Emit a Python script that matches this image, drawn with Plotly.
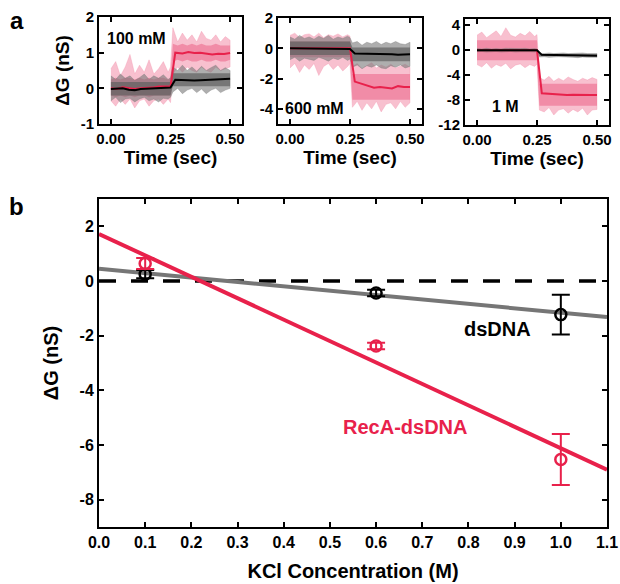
import plotly.graph_objects as go

# ---------------- Panel a: conductance traces ----------------
# time grid for the noise envelopes (s)
t_band = [0.00, 0.02, 0.04, 0.06, 0.08, 0.10, 0.12, 0.14, 0.16, 0.18, 0.20, 0.22, 0.24, 0.25,
          0.26, 0.28, 0.30, 0.32, 0.34, 0.36, 0.38, 0.40, 0.42, 0.44, 0.46, 0.48, 0.50]
# time grid for the smoothed traces (s)
t_smooth = [0.00, 0.025, 0.05, 0.075, 0.10, 0.125, 0.15, 0.175, 0.20, 0.225, 0.25,
            0.27, 0.30, 0.325, 0.35, 0.375, 0.40, 0.425, 0.45, 0.475, 0.50]

# 100 mM : outer (spike) envelopes and dense core envelopes
recA_100_hi = [0.55, 0.75, 0.35, 0.6, 0.95, 0.4, 0.65, 0.45, 0.8, 0.4, 0.55, 0.75, 0.45, 0.6,
               1.7, 1.3, 1.55, 1.35, 1.5, 1.3, 1.6, 1.4, 1.35, 1.5, 1.3, 1.45, 1.35]
recA_100_lo = [-0.35, -0.5, -0.3, -0.45, -0.3, -0.55, -0.35, -0.3, -0.5, -0.35, -0.3, -0.45, -0.3, -0.4,
               0.4, 0.6, 0.45, 0.6, 0.5, 0.45, 0.6, 0.5, 0.45, 0.6, 0.5, 0.55, 0.6]
recA_100_core_hi = [0.25, 0.3, 0.25, 0.3, 0.3, 0.25, 0.3, 0.25, 0.3, 0.25, 0.3, 0.3, 0.25, 0.3,
                    1.25, 1.2, 1.25, 1.2, 1.25, 1.2, 1.25, 1.2, 1.2, 1.25, 1.2, 1.2, 1.2]
recA_100_core_lo = [-0.2, -0.25, -0.2, -0.25, -0.2, -0.25, -0.2, -0.2, -0.25, -0.2, -0.2, -0.2, -0.2, -0.2,
                    0.75, 0.8, 0.75, 0.8, 0.75, 0.75, 0.8, 0.75, 0.75, 0.8, 0.75, 0.75, 0.8]
ds_100_hi = [0.35, 0.25, 0.4, 0.28, 0.35, 0.22, 0.3, 0.4, 0.25, 0.35, 0.28, 0.38, 0.25, 0.3,
             0.6, 0.5, 0.65, 0.5, 0.6, 0.48, 0.62, 0.5, 0.58, 0.65, 0.5, 0.58, 0.5]
ds_100_lo = [-0.35, -0.25, -0.4, -0.3, -0.28, -0.38, -0.3, -0.25, -0.35, -0.3, -0.38, -0.28, -0.3, -0.25,
             -0.1, 0.0, -0.15, -0.05, 0.0, -0.12, -0.02, -0.15, -0.05, 0.0, -0.12, -0.05, 0.0]
ds_100_core_hi = [0.18] * 14 + [0.42] * 13
ds_100_core_lo = [-0.2] * 14 + [0.06] * 13
recA_100 = [0.0, -0.02, 0.03, 0.0, -0.02, 0.0, 0.0, 0.02, 0.05, 0.06, 0.05,
            1.0, 0.98, 1.02, 0.99, 1.0, 0.97, 0.95, 0.97, 0.96, 0.99]
ds_100 = [-0.02, -0.02, 0.0, -0.04, -0.05, -0.02, -0.01, -0.02, 0.0, 0.0, 0.02,
          0.24, 0.23, 0.24, 0.22, 0.23, 0.24, 0.25, 0.24, 0.26, 0.27]

# 600 mM
recA_600_hi = [0.85, 1.0, 0.7, 0.9, 0.95, 0.75, 1.0, 0.7, 0.9, 0.8, 0.95, 0.75, 0.9, 0.8,
               -1.2, -1.0, -1.35, -1.15, -0.95, -1.3, -1.1, -1.25, -1.05, -1.3, -1.15, -1.05, -1.25]
recA_600_lo = [-1.3, -1.0, -1.6, -1.1, -1.4, -1.0, -1.8, -1.2, -1.0, -1.4, -1.1, -1.5, -1.2, -1.0,
               -3.9, -3.5, -4.1, -3.6, -4.0, -3.5, -4.2, -3.7, -3.6, -4.0, -3.5, -3.9, -3.6]
recA_600_core_hi = [0.45] * 14 + [-1.7] * 13
recA_600_core_lo = [-0.6] * 14 + [-3.4] * 13
ds_600_hi = [0.75, 0.6, 0.85, 0.65, 0.75, 0.6, 0.8, 0.65, 0.85, 0.6, 0.75, 0.65, 0.8, 0.7,
             0.35, 0.45, 0.2, 0.4, 0.3, 0.45, 0.25, 0.4, 0.3, 0.45, 0.3, 0.25, 0.4]
ds_600_lo = [-0.75, -0.6, -0.85, -0.65, -0.75, -0.8, -0.6, -0.7, -0.85, -0.65, -0.75, -0.6, -0.8, -0.7,
             -1.25, -1.1, -1.35, -1.15, -1.25, -1.1, -1.3, -1.35, -1.15, -1.25, -1.1, -1.3, -1.2]
ds_600_core_hi = [0.45] * 14 + [0.05] * 13
ds_600_core_lo = [-0.45] * 14 + [-0.85] * 13
recA_600 = [0.0, 0.0, 0.02, 0.0, -0.02, 0.0, 0.02, 0.0, -0.02, 0.0, 0.0,
            -2.2, -2.35, -2.5, -2.6, -2.55, -2.6, -2.65, -2.5, -2.55, -2.55]
ds_600 = [0.0, 0.0, 0.0, 0.0, 0.0, 0.0, 0.0, 0.0, 0.0, -0.02, -0.05,
          -0.35, -0.35, -0.38, -0.37, -0.4, -0.38, -0.4, -0.42, -0.4, -0.4]

# 1 M
recA_1M_hi = [2.4, 2.9, 2.0, 2.6, 3.1, 2.2, 3.6, 2.4, 2.1, 2.7, 2.3, 3.0, 2.2, 2.5,
              -4.4, -4.8, -4.2, -5.0, -4.5, -4.9, -4.3, -4.7, -5.0, -4.5, -4.8, -4.4, -4.7]
recA_1M_lo = [-2.3, -2.7, -2.0, -2.9, -2.3, -2.6, -2.1, -3.0, -2.4, -2.2, -2.8, -2.3, -2.6, -2.2,
              -9.6, -9.9, -9.2, -10.4, -9.6, -9.4, -10.1, -9.5, -9.9, -9.3, -10.4, -9.6, -9.5]
recA_1M_core_hi = [1.6] * 14 + [-5.4] * 13
recA_1M_core_lo = [-1.6] * 14 + [-8.9] * 13
ds_1M_hi = [0.25, 0.2, 0.3, 0.2, 0.25, 0.2, 0.3, 0.25, 0.2, 0.25, 0.3, 0.2, 0.25, 0.2,
            -0.5, -0.55, -0.45, -0.55, -0.5, -0.45, -0.55, -0.5, -0.5, -0.45, -0.55, -0.5, -0.55]
ds_1M_lo = [-0.25, -0.2, -0.3, -0.25, -0.2, -0.3, -0.25, -0.2, -0.3, -0.25, -0.2, -0.25, -0.3, -0.2,
            -1.1, -1.05, -1.15, -1.1, -1.05, -1.15, -1.1, -1.15, -1.2, -1.1, -1.15, -1.2, -1.15]
ds_1M_core_hi = [0.1] * 14 + [-0.65] * 13
ds_1M_core_lo = [-0.1] * 14 + [-0.95] * 13
recA_1M = [0.0, 0.0, 0.0, 0.02, 0.0, 0.0, 0.0, 0.0, 0.0, 0.0, 0.0,
           -6.9, -7.0, -7.1, -7.1, -7.2, -7.15, -7.2, -7.25, -7.2, -7.2]
ds_1M = [0.0, 0.0, 0.0, 0.0, 0.0, 0.0, 0.0, 0.0, 0.0, 0.0, 0.0,
         -0.75, -0.78, -0.8, -0.8, -0.82, -0.85, -0.85, -0.85, -0.88, -0.9]

conc_labels = ["100 mM", "600 mM", "1 M"]

# ---------------- Panel b: ΔG vs KCl concentration ----------------
kcl = [0.1, 0.6, 1.0]
dG_ds = [0.25, -0.44, -1.23]
dG_ds_err = [0.15, 0.12, 0.73]
dG_recA = [0.64, -2.38, -6.53]
dG_recA_err = [0.2, 0.12, 0.93]
fit_x = [0.0, 1.1]
fit_ds = [0.45, -1.32]
fit_recA = [1.72, -6.9]

RED = "#E8214B"
PINK_OUT = "rgba(242,140,168,0.55)"
PINK_CORE = "rgba(236,105,140,0.6)"
GRAY_OUT = "rgba(120,120,120,0.6)"
GRAY_CORE = "rgba(95,95,95,0.7)"
FIT_GRAY = "#767676"
FONT = "Liberation Sans"

fig = go.Figure()


def band(xa, ya, lo, hi, fill, width=0.6):
    fig.add_trace(go.Scatter(
        x=t_band + t_band[::-1], y=hi + lo[::-1], xaxis=xa, yaxis=ya,
        fill="toself", fillcolor=fill, mode="lines",
        line=dict(color=fill, width=width), showlegend=False, hoverinfo="skip"))


def smooth(xa, ya, y, color):
    fig.add_trace(go.Scatter(
        x=t_smooth, y=y, xaxis=xa, yaxis=ya, mode="lines",
        line=dict(color=color, width=2), showlegend=False))


panels = [
    ("x", "y", (recA_100_lo, recA_100_hi, recA_100_core_lo, recA_100_core_hi),
     (ds_100_lo, ds_100_hi, ds_100_core_lo, ds_100_core_hi), recA_100, ds_100),
    ("x2", "y2", (recA_600_lo, recA_600_hi, recA_600_core_lo, recA_600_core_hi),
     (ds_600_lo, ds_600_hi, ds_600_core_lo, ds_600_core_hi), recA_600, ds_600),
    ("x3", "y3", (recA_1M_lo, recA_1M_hi, recA_1M_core_lo, recA_1M_core_hi),
     (ds_1M_lo, ds_1M_hi, ds_1M_core_lo, ds_1M_core_hi), recA_1M, ds_1M),
]
for xa, ya, rb, db, rs, ds in panels:
    band(xa, ya, rb[0], rb[1], PINK_OUT)
    band(xa, ya, rb[2], rb[3], PINK_CORE, 0)
    band(xa, ya, db[0], db[1], GRAY_OUT)
    band(xa, ya, db[2], db[3], GRAY_CORE, 0)
    smooth(xa, ya, rs, RED)
    smooth(xa, ya, ds, "black")

# zero reference line
fig.add_trace(go.Scatter(x=fit_x, y=[0, 0], xaxis="x4", yaxis="y4", mode="lines",
                         line=dict(color="black", width=3.5, dash="17px,15px"),
                         showlegend=False))
# linear fits
fig.add_trace(go.Scatter(x=fit_x, y=fit_ds, xaxis="x4", yaxis="y4", mode="lines",
                         line=dict(color=FIT_GRAY, width=4), showlegend=False))
fig.add_trace(go.Scatter(x=fit_x, y=fit_recA, xaxis="x4", yaxis="y4", mode="lines",
                         line=dict(color=RED, width=4), showlegend=False))
# measured points
fig.add_trace(go.Scatter(
    x=kcl, y=dG_ds, xaxis="x4", yaxis="y4", mode="markers",
    marker=dict(symbol="circle-open", size=11, color="black", line=dict(width=2.5)),
    error_y=dict(type="data", array=dG_ds_err, color="black", thickness=2, width=9),
    showlegend=False))
fig.add_trace(go.Scatter(
    x=kcl, y=dG_recA, xaxis="x4", yaxis="y4", mode="markers",
    marker=dict(symbol="circle-open", size=11, color=RED, line=dict(width=2.5)),
    error_y=dict(type="data", array=dG_recA_err, color=RED, thickness=2, width=9),
    showlegend=False))

W, H = 620, 584


def xd(a, b):
    return [a / W, b / W]


def yd(top, bottom):
    return [1 - bottom / H, 1 - top / H]


axis_common = dict(showline=True, linecolor="black", linewidth=2, mirror="ticks",
                   ticks="inside", ticklen=5, tickwidth=2, tickcolor="black",
                   showgrid=False, zeroline=False, automargin=False)
tick_a = dict(family=FONT, size=15, color="black", weight="bold")
tick_b = dict(family=FONT, size=16, color="black", weight="bold")
title_font = dict(family=FONT, size=19, color="black", weight="bold")

layout = dict(
    template="none",
    width=W, height=H, margin=dict(l=0, r=0, t=0, b=0, autoexpand=False),
    paper_bgcolor="white", plot_bgcolor="white",
    font=dict(family=FONT, color="black", weight="bold"),
)

small = [
    ("xaxis", "yaxis", "y", "x", xd(99, 242), yd(17, 124), [-1, 2], [-1, 0, 1, 2], ["-1", "0", "1", "2"]),
    ("xaxis2", "yaxis2", "y2", "x2", xd(278, 422), yd(18, 124), [-5, 2], [-4, -2, 0, 2], ["-4", "-2", "0", "2"]),
    ("xaxis3", "yaxis3", "y3", "x3", xd(465, 609), yd(19, 125), [-12, 5], [-12, -8, -4, 0, 4], ["-12", "-8", "-4", "0", "4"]),
]
for i, (xk, yk, anc_y, anc_x, xdom, ydom, yr, yt, ytl) in enumerate(small):
    layout[xk] = dict(axis_common, domain=xdom, anchor=anc_y, range=[-0.05, 0.55],
                      tickvals=[0, 0.25, 0.5], ticktext=["0.00", "0.25", "0.50"],
                      tickfont=tick_a,
                      title=dict(text="Time (sec)", font=title_font, standoff=2))
    ydict = dict(axis_common, domain=ydom, anchor=anc_x, range=yr,
                 tickvals=yt, ticktext=ytl, tickfont=tick_a)
    if i == 0:
        ydict["title"] = dict(text="ΔG (nS)", font=title_font, standoff=6)
    layout[yk] = ydict

layout["xaxis4"] = dict(axis_common, domain=xd(99, 607), anchor="y4", range=[0, 1.1],
                        tickvals=[0, 0.1, 0.2, 0.3, 0.4, 0.5, 0.6, 0.7, 0.8, 0.9, 1.0, 1.1],
                        ticktext=["0.0", "0.1", "0.2", "0.3", "0.4", "0.5", "0.6", "0.7",
                                  "0.8", "0.9", "1.0", "1.1"],
                        tickfont=tick_b,
                        title=dict(text="KCl Concentration (M)",
                                   font=dict(title_font, size=20), standoff=14))
layout["yaxis4"] = dict(axis_common, domain=yd(199, 527), anchor="x4", range=[-9, 3],
                        tickvals=[-8, -6, -4, -2, 0, 2],
                        ticktext=["-8", "-6", "-4", "-2", "0", "2"],
                        tickfont=tick_b,
                        title=dict(text="ΔG (nS)", font=dict(title_font, size=20), standoff=16))

ann_font = dict(family=FONT, size=16, color="black", weight="bold")
layout["annotations"] = [
    dict(text="a", x=17 / W, y=1 - 21 / H, xref="paper", yref="paper", showarrow=False,
         xanchor="center", yanchor="middle",
         font=dict(family=FONT, size=24, color="black", weight="bold")),
    dict(text="b", x=16 / W, y=1 - 207 / H, xref="paper", yref="paper", showarrow=False,
         xanchor="center", yanchor="middle",
         font=dict(family=FONT, size=24, color="black", weight="bold")),
    dict(text=conc_labels[0], x=-0.025, y=1.4, xref="x", yref="y", xanchor="left",
         showarrow=False, font=ann_font),
    dict(text=conc_labels[1], x=-0.03, y=-3.95, xref="x2", yref="y2", xanchor="left",
         showarrow=False, font=ann_font),
    dict(text=conc_labels[2], x=0.054, y=-9.0, xref="x3", yref="y3", xanchor="left",
         showarrow=False, font=ann_font),
    dict(text="dsDNA", x=0.862, y=-1.77, xref="x4", yref="y4", showarrow=False,
         font=dict(family=FONT, size=20, color="black", weight="bold")),
    dict(text="RecA-dsDNA", x=0.663, y=-5.35, xref="x4", yref="y4", showarrow=False,
         font=dict(family=FONT, size=20, color=RED, weight="bold")),
]

fig.update_layout(**layout)
fig.write_html("out.html")
